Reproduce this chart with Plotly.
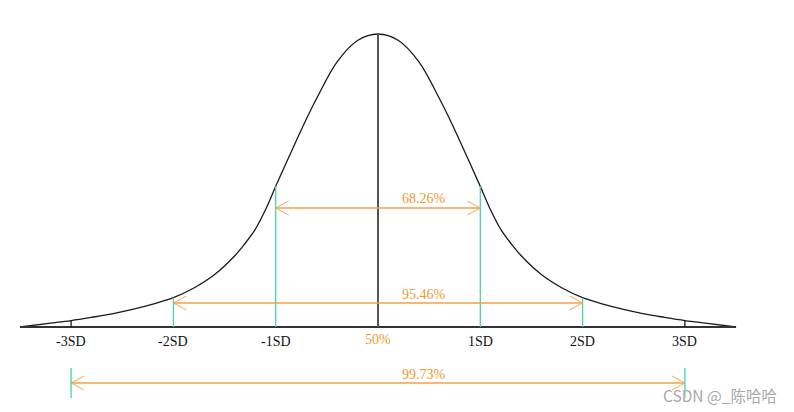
import numpy as np
import plotly.graph_objects as go

# ---- data ----
# curve: position in SD units and relative height (peak = 1)
curve_z = [-3.5, -3.2, -3.0, -2.8, -2.6, -2.4, -2.2, -2.0, -1.8, -1.6, -1.4, -1.3, -1.2, -1.1, -1.0,
           -0.9, -0.8, -0.7, -0.6, -0.4, -0.2, 0.0, 0.2, 0.4, 0.6, 0.7, 0.8, 0.9, 1.0, 1.1, 1.2, 1.3,
           1.4, 1.6, 1.8, 2.0, 2.2, 2.4, 2.6, 2.8, 3.0, 3.2, 3.5]
curve_h = [0.0, 0.013, 0.022, 0.033, 0.045, 0.060, 0.078, 0.100, 0.133, 0.178, 0.243, 0.285, 0.333, 0.400, 0.480,
           0.558, 0.635, 0.710, 0.780, 0.905, 0.978, 1.0, 0.978, 0.905, 0.780, 0.710, 0.635, 0.558, 0.480, 0.400,
           0.333, 0.285, 0.243, 0.178, 0.133, 0.100, 0.078, 0.060, 0.045, 0.033, 0.022, 0.013, 0.0]

sd_positions = [-3, -2, -1, 1, 2, 3]
sd_labels = ["-3SD", "-2SD", "-1SD", "1SD", "2SD", "3SD"]
center_label = "50%"

interval_sd = [1, 2, 3]
interval_labels = ["68.26%", "95.46%", "99.73%"]

watermark = "CSDN @_陈哈哈"

# ---- geometry (pixel mapping) ----
W, H = 794, 412
cx_px, sd_px = 378.0, 102.3
base_px, peak_px = 327.0, 293.0
x_range = [-cx_px / sd_px, (W - cx_px) / sd_px]
y_range = [-(H - base_px) / peak_px, base_px / peak_px]
px_x = 1.0 / sd_px
px_y = 1.0 / peak_px

def h_at(z):
    return float(np.interp(z, curve_z, curve_h))

BLACK = "#1a1a1a"
GREEN = "#45d6a6"
ORANGE = "#f4a14a"
ORANGE_TXT = "#eb9a2e"

fig = go.Figure()
shapes = []

# baseline
shapes.append(dict(type="line", x0=curve_z[0], x1=curve_z[-1], y0=0, y1=0,
                   line=dict(color="#333333", width=2)))
# center line
shapes.append(dict(type="line", x0=0, x1=0, y0=0, y1=h_at(0),
                   line=dict(color="#555555", width=2)))
# vertical lines at SD positions
for z in sd_positions:
    col = BLACK if abs(z) == 3 else GREEN
    shapes.append(dict(type="line", x0=z, x1=z, y0=0, y1=h_at(z),
                       line=dict(color=col, width=1.3)))

# curve
fig.add_trace(go.Scatter(x=curve_z, y=curve_h, mode="lines",
                         line=dict(color=BLACK, width=1.3, shape="spline", smoothing=1.0),
                         hoverinfo="skip", showlegend=False))

# interval arrows
arrow_levels_px = {1: 208, 2: 303, 3: 383}
label_levels_px = {1: 198, 2: 294, 3: 374}
annotations = []
for k, lab in zip(interval_sd, interval_labels):
    yl = (base_px - arrow_levels_px[k]) / peak_px
    shapes.append(dict(type="line", x0=-k, x1=k, y0=yl, y1=yl,
                       line=dict(color=ORANGE, width=1.3)))
    # open chevron heads
    for s in (-1, 1):
        tip = s * k
        back = tip - s * 13 * px_x
        fig.add_trace(go.Scatter(x=[back, tip, back], y=[yl + 7 * px_y, yl, yl - 7 * px_y],
                                 mode="lines", line=dict(color="#f6b778", width=1.1),
                                 hoverinfo="skip", showlegend=False))
    if k == 3:
        for s in (-1, 1):
            shapes.append(dict(type="line", x0=s * k, x1=s * k,
                               y0=(base_px - 368) / peak_px, y1=(base_px - 398) / peak_px,
                               line=dict(color=GREEN, width=1.3)))
    annotations.append(dict(x=46 * px_x, y=(base_px - label_levels_px[k]) / peak_px,
                            text=lab, showarrow=False, xanchor="center", yanchor="middle",
                            font=dict(family="Liberation Serif, DejaVu Serif", size=14,
                                      color=ORANGE_TXT)))

# SD labels
for z, lab in zip(sd_positions, sd_labels):
    annotations.append(dict(x=z, y=(base_px - 341) / peak_px, text=lab, showarrow=False,
                            xanchor="center", yanchor="middle",
                            font=dict(family="Liberation Serif, DejaVu Serif", size=14,
                                      color="#111111")))
annotations.append(dict(x=0, y=(base_px - 339) / peak_px, text=center_label, showarrow=False,
                        xanchor="center", yanchor="middle",
                        font=dict(family="Liberation Serif, DejaVu Serif", size=14,
                                  color=ORANGE_TXT)))

# watermark
annotations.append(dict(x=779 / W, y=1 - 395 / H, xref="paper", yref="paper",
                        text=watermark, showarrow=False, xanchor="right", yanchor="middle",
                        font=dict(family="Noto Sans CJK SC, Noto Sans", size=15.5, color="#a8a8a8")))

fig.update_layout(
    width=W, height=H,
    margin=dict(l=0, r=0, t=0, b=0),
    paper_bgcolor="white", plot_bgcolor="white",
    shapes=shapes, annotations=annotations,
    showlegend=False,
)
fig.update_xaxes(visible=False, range=x_range, fixedrange=True)
fig.update_yaxes(visible=False, range=y_range, fixedrange=True)

fig.write_html("out.html", config={"displayModeBar": False},
               post_script="document.body.style.margin='0';document.body.style.overflow='hidden';")
